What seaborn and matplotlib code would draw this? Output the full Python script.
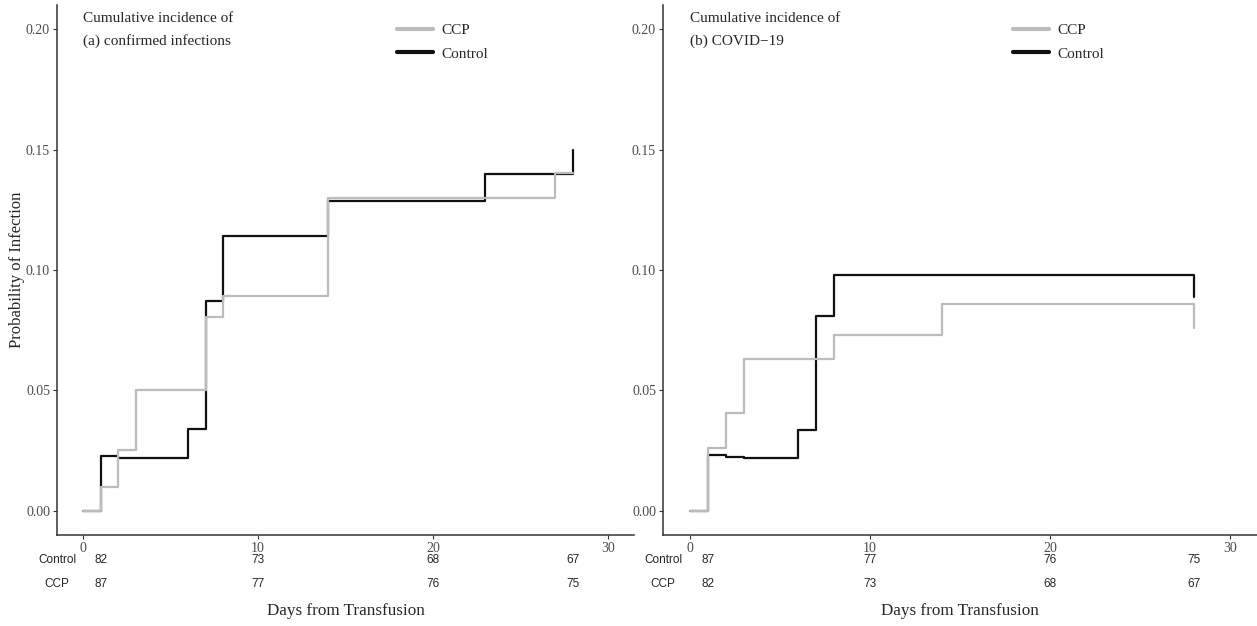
import pandas as pd
import seaborn as sns
import matplotlib.pyplot as plt
from matplotlib.lines import Line2D

# Panel (a): cumulative incidence of confirmed infections
a_ccp_days = [0, 1, 2, 3, 7, 8, 14, 27, 28]
a_ccp_prob = [0.0, 0.0099, 0.0253, 0.0502, 0.0803, 0.0892, 0.1298, 0.1402, 0.1402]
a_ctl_days = [0, 1, 2, 6, 7, 8, 14, 23, 28]
a_ctl_prob = [0.0, 0.0228, 0.0219, 0.0339, 0.0872, 0.1142, 0.1285, 0.1398, 0.1500]

# Panel (b): cumulative incidence of COVID-19
b_ccp_days = [0, 1, 2, 3, 8, 14, 28]
b_ccp_prob = [0.0, 0.0263, 0.0408, 0.0632, 0.0729, 0.0858, 0.0758]
b_ctl_days = [0, 1, 2, 3, 6, 7, 8, 28]
b_ctl_prob = [0.0, 0.0231, 0.0225, 0.0221, 0.0336, 0.0809, 0.0978, 0.0886]

# numbers at risk
risk_days = [1, 10, 20, 28]
a_risk_ctl = [82, 73, 68, 67]
a_risk_ccp = [87, 77, 76, 75]
b_risk_ctl = [87, 77, 76, 75]
b_risk_ccp = [82, 73, 68, 67]

titles = ['Cumulative incidence of', 'Cumulative incidence of']
subtitles = ['(a) confirmed infections', '(b) COVID\u221219']

sns.set_style('ticks')
plt.rcParams['font.family'] = ['Liberation Serif', 'DejaVu Serif']

pal = {'CCP': '#bcbcbc', 'Control': '#111111'}
tick_col = '#4d4d4d'


def make_df(ccp_d, ccp_p, ctl_d, ctl_p):
    d1 = pd.DataFrame({'day': ccp_d, 'prob': ccp_p, 'arm': 'CCP'})
    d2 = pd.DataFrame({'day': ctl_d, 'prob': ctl_p, 'arm': 'Control'})
    return pd.concat([d1, d2], ignore_index=True)


panels = [
    (make_df(a_ccp_days, a_ccp_prob, a_ctl_days, a_ctl_prob), a_risk_ctl, a_risk_ccp),
    (make_df(b_ccp_days, b_ccp_prob, b_ctl_days, b_ctl_prob), b_risk_ctl, b_risk_ccp),
]

fig = plt.figure(figsize=(12.57, 6.26), dpi=100)
rects = [[57 / 1257, 91 / 626, 577 / 1257, 530 / 626],
         [663 / 1257, 91 / 626, 594 / 1257, 530 / 626]]

for i, (df, r_ctl, r_ccp) in enumerate(panels):
    ax = fig.add_axes(rects[i])
    # Control first so the CCP curve sits on top
    sns.lineplot(data=df, x='day', y='prob', hue='arm', hue_order=['Control', 'CCP'],
                 palette=pal, estimator=None, drawstyle='steps-post', linewidth=1.6,
                 legend=False, ax=ax)
    ax.set_xlim(-1.5, 31.5)
    ax.set_ylim(-0.01, 0.21)
    ax.set_xticks([0, 10, 20, 30])
    ax.set_yticks([0, 0.05, 0.10, 0.15, 0.20])
    ax.set_yticklabels(['0.00', '0.05', '0.10', '0.15', '0.20'])
    ax.tick_params(colors='#333333', labelcolor=tick_col, labelsize=10, length=3, width=0.8, pad=2)
    sns.despine(ax=ax)
    for s in ['left', 'bottom']:
        ax.spines[s].set_color('#333333')
        ax.spines[s].set_linewidth(1.1)
    ax.set_xlabel('')
    ax.set_ylabel('')

    xt = ax.get_xaxis_transform()
    ax.text(0, 0.9736, titles[i], transform=xt, fontsize=11, va='center', ha='left')
    ax.text(0, 0.932, subtitles[i], transform=xt, fontsize=11, va='center', ha='left')

    handles = [Line2D([], [], color=pal['CCP'], lw=3), Line2D([], [], color=pal['Control'], lw=3)]
    ax.legend(handles, ['CCP', 'Control'], loc='center left', bbox_to_anchor=(0.59, 0.93),
              frameon=False, fontsize=11, handlelength=2.3, handletextpad=0.6,
              labelspacing=0.62, borderpad=0, borderaxespad=0)

    # numbers at risk table
    for d, c, p in zip(risk_days, r_ctl, r_ccp):
        ax.text(d, -0.047, str(c), transform=xt, ha='center', va='center',
                fontsize=8.5, family='Liberation Sans', clip_on=False)
        ax.text(d, -0.0925, str(p), transform=xt, ha='center', va='center',
                fontsize=8.5, family='Liberation Sans', clip_on=False)
    ax.text(0, -0.047, 'Control', transform=ax.transAxes, ha='center', va='center',
            fontsize=8.5, family='Liberation Sans')
    ax.text(0, -0.0925, 'CCP', transform=ax.transAxes, ha='center', va='center',
            fontsize=8.5, family='Liberation Sans')
    ax.text(0.5, -0.143, 'Days from Transfusion', transform=ax.transAxes, ha='center',
            va='center', fontsize=12.3)

fig.text(17 / 1257, 1 - 270 / 626, 'Probability of Infection', rotation=90,
         ha='center', va='center', fontsize=12)

fig.savefig('out.png', dpi=100)
